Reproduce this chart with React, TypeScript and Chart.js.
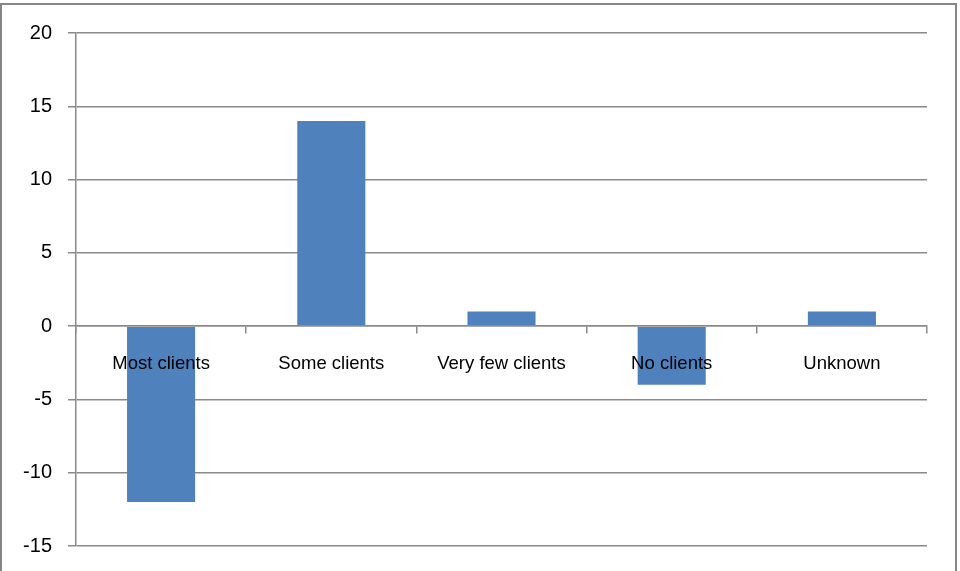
import React, { useEffect, useRef } from "react";
import { Chart, registerables } from "chart.js";

Chart.register(...registerables);

const categories = ["Most clients", "Some clients", "Very few clients", "No clients", "Unknown"];
const values = [-12, 14, 1, -4, 1];
const yMin = -15;
const yMax = 20;
const yStep = 5;

const FONT = "'Liberation Sans', Arial, sans-serif";
const GRID = "#8a8a8a";

const framePlugin = {
  id: "frame",
  beforeDraw(chart: any) {
    const ctx = chart.ctx;
    ctx.save();
    ctx.fillStyle = "#ffffff";
    ctx.fillRect(0, 0, chart.width, chart.height);
    ctx.strokeStyle = "#868686";
    ctx.lineWidth = 2;
    ctx.strokeRect(1, 4, 955, 640);
    ctx.restore();
  },
};

export default function App() {
  const ref = useRef<HTMLCanvasElement | null>(null);
  useEffect(() => {
    if (!ref.current) return;
    const chart = new Chart(ref.current, {
      type: "bar",
      data: {
        labels: categories,
        datasets: [
          {
            data: values,
            backgroundColor: "#4F81BD",
            borderWidth: 0,
            barPercentage: 0.4,
            categoryPercentage: 1,
          },
        ],
      },
      options: {
        animation: false,
        responsive: false,
        devicePixelRatio: 1,
        layout: { padding: { left: 0, right: 33, top: 33, bottom: 25 } },
        plugins: { legend: { display: false }, tooltip: { enabled: false } },
        scales: {
          x: {
            position: { y: 0 } as any,
            afterFit: (scale: any) => {
              scale.height = 0;
              scale.paddingTop = 0;
              scale.paddingBottom = 0;
            },
            grid: {
              drawOnChartArea: false,
              drawTicks: true,
              tickLength: 7,
              color: GRID,
              lineWidth: 1.5,
              offset: true,
            },
            border: { display: true, color: GRID, width: 1.5, z: 1 },
            ticks: {
              z: 2,
              color: "#000",
              padding: 20,
              maxRotation: 0,
              autoSkip: false,
              font: { family: FONT, size: 18.5 },
            },
          },
          y: {
            min: yMin,
            max: yMax,
            afterFit: (scale: any) => {
              scale.width = 76;
              scale.paddingTop = 0;
              scale.paddingBottom = 0;
            },
            grid: {
              color: GRID,
              lineWidth: 1.5,
              tickLength: 8,
              drawTicks: true,
            },
            border: { display: true, color: GRID, width: 1.5 },
            ticks: {
              stepSize: yStep,
              color: "#000",
              padding: 16,
              font: { family: FONT, size: 20 },
            },
          },
        },
      },
      plugins: [framePlugin],
    });
    return () => chart.destroy();
  }, []);
  return (
    <div style={{ position: "absolute", left: 0, top: 0, width: 960, height: 571 }}>
      <canvas ref={ref} width={960} height={571} style={{ width: 960, height: 571, display: "block" }} />
    </div>
  );
}
